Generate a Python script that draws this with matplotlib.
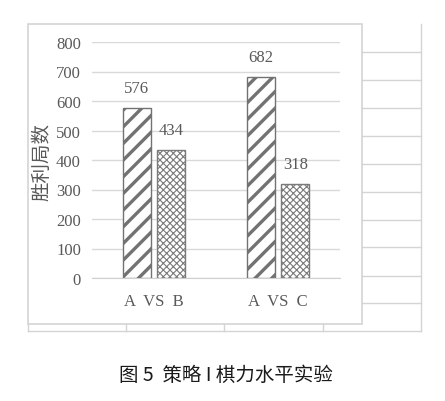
import numpy as np
import matplotlib
matplotlib.use("Agg")
import matplotlib.pyplot as plt
from matplotlib.lines import Line2D
from matplotlib.patches import Rectangle

plt.rcParams['font.family'] = ['Liberation Serif', 'Noto Sans CJK SC', 'DejaVu Sans']

# data
categories = ['A  VS  B', 'A  VS  C']
series_1 = [576, 682]
series_2 = [434, 318]
y_ticks = [0, 100, 200, 300, 400, 500, 600, 700, 800]
y_label = '胜利局数'
caption = '图 5  策略 I 棋力水平实验'

W, H = 445, 402
fig = plt.figure(figsize=(W / 100, H / 100), dpi=100)
fig.patch.set_facecolor('white')

def px(x, y):
    # pixel coords (top-left origin) -> figure fraction
    return x / W, 1 - y / H

frame_col = '#d4d4d4'
# background sheet lines (right side and bottom)
for yy in [53, 81, 109, 137, 165, 193, 221, 248, 277, 304]:
    fig.add_artist(Line2D([362 / W, 421 / W], [1 - yy / H] * 2, color=frame_col, lw=1))
fig.add_artist(Line2D([421 / W] * 2, [1 - 25 / H, 1 - 332 / H], color=frame_col, lw=1))
fig.add_artist(Line2D([28 / W, 421 / W], [1 - 332 / H] * 2, color=frame_col, lw=1))
for xx in [126, 224, 323]:
    fig.add_artist(Line2D([xx / W] * 2, [1 - 325 / H, 1 - 332 / H], color=frame_col, lw=1))
fig.add_artist(Line2D([28 / W] * 2, [1 - 325 / H, 1 - 332 / H], color=frame_col, lw=1))
# chart frame
fig.add_artist(Rectangle(px(28, 325), (362 - 28) / W, (325 - 25) / H,
                         facecolor='white', edgecolor=frame_col, lw=1.2,
                         transform=fig.transFigure, zorder=0))

left, right, top, bottom = 92, 340, 43, 279
ax = fig.add_axes([left / W, 1 - bottom / H, (right - left) / W, (bottom - top) / H])
ax.set_facecolor('none')

x = np.arange(len(categories))
w = 0.226
off = 0.141
b1 = ax.bar(x - off, series_1, w, facecolor='white', edgecolor='#727272', hatch='//', lw=1.0, zorder=3)
b2 = ax.bar(x + off, series_2, w, facecolor='white', edgecolor='#7a7a7a', hatch='xxxxx', lw=1.0, zorder=3)
for p in b1:
    if hasattr(p, 'set_hatch_linewidth'):
        p.set_hatch_linewidth(2.4)
for p in b2:
    if hasattr(p, 'set_hatch_linewidth'):
        p.set_hatch_linewidth(0.8)

txt_col = '#595959'
for bars, vals in [(b1, series_1), (b2, series_2)]:
    for p, v in zip(bars, vals):
        ax.annotate(str(v), (p.get_x() + p.get_width() / 2, v), xytext=(0, 14.5),
                    textcoords='offset points', ha='center', va='center',
                    fontsize=12, color=txt_col)

ax.set_xlim(-0.5, 1.5)
ax.set_ylim(0, 800)
ax.set_yticks(y_ticks)
ax.set_xticks(x)
ax.set_xticklabels(categories)
ax.tick_params(axis='y', length=0, pad=8, labelsize=12, labelcolor=txt_col)
ax.tick_params(axis='x', length=0, pad=11, labelsize=12, labelcolor=txt_col)
ax.grid(axis='y', color='#d9d9d9', lw=1, zorder=0)
for s in ['top', 'right', 'left']:
    ax.spines[s].set_visible(False)
ax.spines['bottom'].set_color('#d0d0d0')

fig.text(42 / W, 1 - 162 / H, y_label, rotation=90, ha='center', va='center',
         fontsize=14, color=txt_col, family=['Noto Sans CJK SC', 'DejaVu Sans'])
fig.text(226 / W, 1 - 375 / H, caption, ha='center', va='center', fontsize=14,
         color='#1a1a1a', family=['Noto Sans CJK SC', 'DejaVu Sans'])

fig.savefig('out.png', dpi=100, facecolor='white')
